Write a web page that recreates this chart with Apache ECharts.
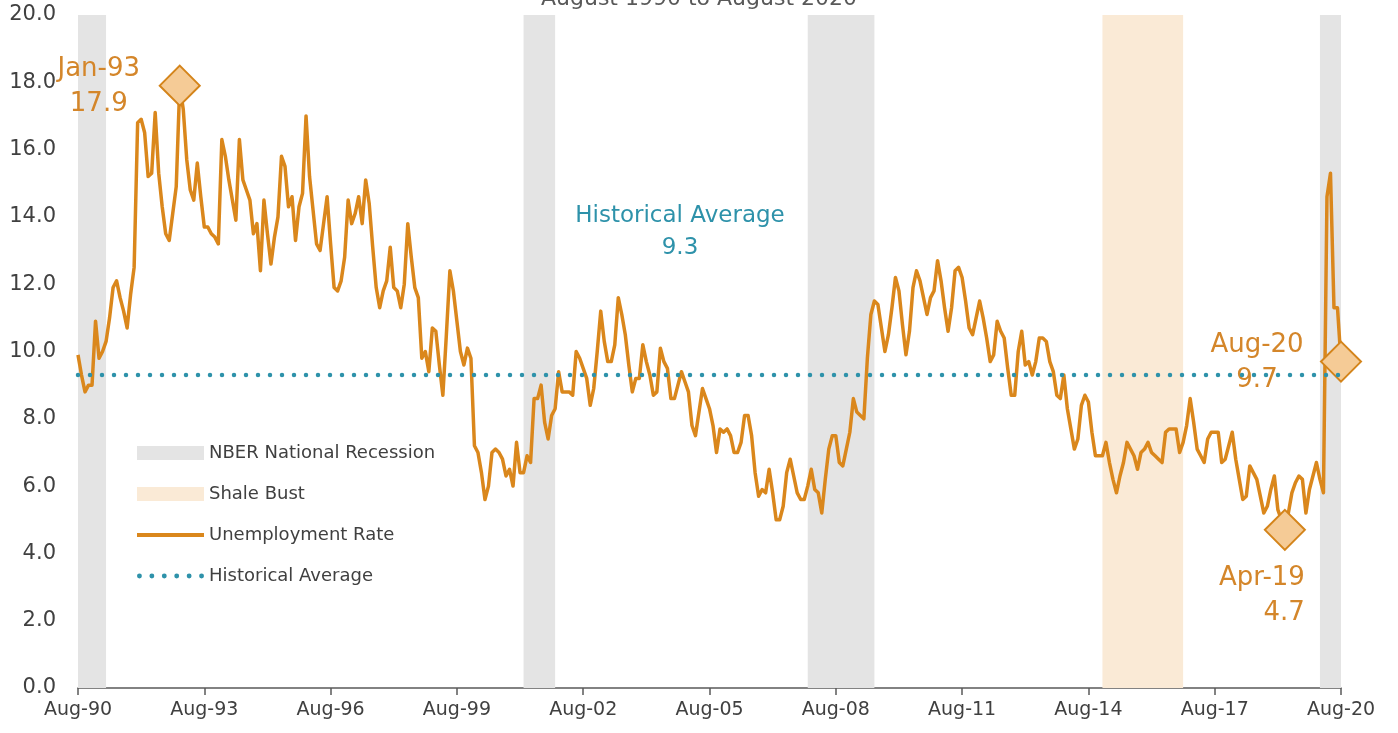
<!DOCTYPE html>
<html>
<head>
<meta charset="utf-8">
<title>Unemployment Rate, August 1990 to August 2020</title>
<script src="https://cdn.jsdelivr.net/npm/echarts@6/dist/echarts.min.js"></script>
<style>
  html, body { margin: 0; padding: 0; background: #ffffff; }
  #chart { width: 1398px; height: 733px; }
</style>
</head>
<body>
<div id="chart"></div>
<script>
// Monthly unemployment rate (%), Aug-1990 through Aug-2020, one row per Aug..Jul year
const unemploymentRate = [
  9.9, 9.3, 8.8, 9.0, 9.0, 10.9, 9.8, 10.0, 10.3, 11.0, 11.9, 12.1,
  11.6, 11.2, 10.7, 11.7, 12.5, 16.8, 16.9, 16.5, 15.2, 15.3, 17.1, 15.3,
  14.3, 13.5, 13.3, 14.1, 14.9, 17.9, 17.2, 15.7, 14.8, 14.5, 15.6, 14.6,
  13.7, 13.7, 13.5, 13.4, 13.2, 16.3, 15.8, 15.1, 14.5, 13.9, 16.3, 15.1,
  14.8, 14.5, 13.5, 13.8, 12.4, 14.5, 13.5, 12.6, 13.4, 14.0, 15.8, 15.5,
  14.3, 14.6, 13.3, 14.3, 14.7, 17.0, 15.2, 14.2, 13.2, 13.0, 13.8, 14.6,
  13.2, 11.9, 11.8, 12.1, 12.8, 14.5, 13.8, 14.1, 14.6, 13.8, 15.1, 14.4,
  13.1, 11.9, 11.3, 11.8, 12.1, 13.1, 11.9, 11.8, 11.3, 12.0, 13.8, 12.8,
  11.9, 11.6, 9.8, 10.0, 9.4, 10.7, 10.6, 9.6, 8.7, 10.5, 12.4, 11.8,
  10.9, 10.0, 9.6, 10.1, 9.8, 7.2, 7.0, 6.4, 5.6, 6.0, 7.0, 7.1,
  7.0, 6.8, 6.3, 6.5, 6.0, 7.3, 6.4, 6.4, 6.9, 6.7, 8.6, 8.6,
  9.0, 7.9, 7.4, 8.1, 8.3, 9.4, 8.8, 8.8, 8.8, 8.7, 10.0, 9.8,
  9.5, 9.2, 8.4, 8.9, 10.0, 11.2, 10.3, 9.7, 9.7, 10.2, 11.6, 11.1,
  10.5, 9.6, 8.8, 9.2, 9.2, 10.2, 9.7, 9.3, 8.7, 8.8, 10.1, 9.7,
  9.5, 8.6, 8.6, 9.0, 9.4, 9.1, 8.8, 7.8, 7.5, 8.2, 8.9, 8.6,
  8.3, 7.8, 7.0, 7.7, 7.6, 7.7, 7.5, 7.0, 7.0, 7.3, 8.1, 8.1,
  7.5, 6.4, 5.7, 5.9, 5.8, 6.5, 5.8, 5.0, 5.0, 5.4, 6.4, 6.8,
  6.3, 5.8, 5.6, 5.6, 6.0, 6.5, 5.9, 5.8, 5.2, 6.2, 7.1, 7.5,
  7.5, 6.7, 6.6, 7.1, 7.6, 8.6, 8.2, 8.1, 8.0, 9.8, 11.1, 11.5,
  11.4, 10.7, 10.0, 10.5, 11.3, 12.2, 11.8, 10.8, 9.9, 10.6, 11.9, 12.4,
  12.1, 11.6, 11.1, 11.6, 11.8, 12.7, 12.1, 11.3, 10.6, 11.3, 12.4, 12.5,
  12.2, 11.5, 10.7, 10.5, 11.0, 11.5, 11.0, 10.4, 9.7, 9.9, 10.9, 10.6,
  10.4, 9.5, 8.7, 8.7, 10.0, 10.6, 9.6, 9.7, 9.3, 9.7, 10.4, 10.4,
  10.3, 9.7, 9.4, 8.7, 8.6, 9.3, 8.3, 7.7, 7.1, 7.4, 8.4, 8.7,
  8.5, 7.6, 6.9, 6.9, 6.9, 7.3, 6.7, 6.2, 5.8, 6.3, 6.7, 7.3,
  7.1, 6.9, 6.5, 7.0, 7.1, 7.3, 7.0, 6.9, 6.8, 6.7, 7.6, 7.7,
  7.7, 7.7, 7.0, 7.3, 7.8, 8.6, 7.9, 7.1, 6.9, 6.7, 7.4, 7.6,
  7.6, 7.6, 6.7, 6.8, 7.2, 7.6, 6.8, 6.2, 5.6, 5.7, 6.6, 6.4,
  6.2, 5.7, 5.2, 5.4, 5.9, 6.3, 5.3, 5.0, 4.7, 5.2, 5.8, 6.1,
  6.3, 6.2, 5.2, 5.9, 6.3, 6.7, 6.2, 5.8, 14.6, 15.3, 11.3, 11.3,
  9.7
];

const historicalAverage = 9.3;

// Month labels, first month of the series
const startYear = 1990;
const startMonth = 7; // August (0-based)
const monthNames = ['Jan','Feb','Mar','Apr','May','Jun','Jul','Aug','Sep','Oct','Nov','Dec'];

// NBER recession periods and the shale bust, as [from, to] month labels
const recessions = [['Aug-90', 'Apr-91'], ['Mar-01', 'Dec-01'], ['Dec-07', 'Jul-09'], ['Feb-20', 'Aug-20']];
const shaleBust = [['Dec-14', 'Nov-16']];

// Highlighted months
const highlights = ['Jan-93', 'Apr-19', 'Aug-20'];

const yTicks = { min: 0, max: 20, interval: 2 };

const months = unemploymentRate.map((_, i) => {
  const m = (startMonth + i) % 12;
  const y = startYear + Math.floor((startMonth + i) / 12);
  return monthNames[m] + '-' + String(y % 100).padStart(2, '0');
});

const ORANGE = '#DA871C';
const TEAL = '#2E92AA';
const GREY_TEXT = '#404040';
const FONT = 'DejaVu Sans';

// legend swatches: a solid stroke and a row of round dots
const solidLineIcon = 'path://M0,0H67V4H0Z';
const dottedLineIcon = 'path://' + [0, 1, 2, 3, 4, 5].map(k => {
  const cx = 2.3 + k * 11.7;
  return 'M' + (cx - 2.3) + ',2.3a2.3,2.3 0 1,0 4.6,0a2.3,2.3 0 1,0 -4.6,0Z';
}).join('') + 'M0,0M63,4.6';

// label placement for each highlighted point
const highlightLabel = {
  'Jan-93': { align: 'center', offset: [-81, 1] },
  'Aug-20': { align: 'center', offset: [-84, 1] },
  'Apr-19': { align: 'right', offset: [20, 66] }
};

const markPoints = highlights.map(name => {
  const v = unemploymentRate[months.indexOf(name)];
  const cfg = highlightLabel[name];
  return {
    coord: [name, v],
    value: v,
    label: {
      show: true,
      position: 'inside',
      align: cfg.align,
      verticalAlign: 'middle',
      offset: cfg.offset,
      formatter: name + '\n' + v.toFixed(1),
      color: '#D4862A',
      fontSize: 26,
      lineHeight: 35,
      fontFamily: FONT
    }
  };
});

const chart = echarts.init(document.getElementById('chart'), null, { renderer: 'canvas' });

chart.setOption({
  backgroundColor: '#ffffff',
  animation: false,
  title: {
    text: 'August 1990 to August 2020',
    left: 'center',
    top: -17,
    textStyle: { fontFamily: FONT, fontSize: 22, fontWeight: 'normal', color: '#595959' }
  },
  grid: { left: 78, right: 57, top: 15, bottom: 45 },
  legend: {
    orient: 'vertical',
    left: 132,
    top: 438,
    itemWidth: 67,
    itemHeight: 14,
    itemGap: 21,
    textStyle: { fontFamily: FONT, fontSize: 18, color: GREY_TEXT, lineHeight: 20 },
    data: [
      { name: 'NBER National Recession', icon: 'rect', itemStyle: { color: '#E4E4E4' } },
      { name: 'Shale Bust', icon: 'rect', itemStyle: { color: '#FAEAD6' } },
      { name: 'Unemployment Rate', icon: solidLineIcon, itemStyle: { color: ORANGE } },
      { name: 'Historical Average', icon: dottedLineIcon, itemStyle: { color: TEAL } }
    ]
  },
  xAxis: {
    type: 'category',
    data: months,
    boundaryGap: false,
    axisLine: { show: true, lineStyle: { color: '#595959', width: 1.5 } },
    axisTick: { show: true, interval: 35, length: 7, lineStyle: { color: '#595959', width: 1.5 } },
    axisLabel: { interval: 35, fontFamily: FONT, fontSize: 19, color: GREY_TEXT, margin: 13 },
    splitLine: { show: false }
  },
  yAxis: {
    type: 'value',
    min: yTicks.min,
    max: yTicks.max,
    interval: yTicks.interval,
    axisLine: { show: false },
    axisTick: { show: false },
    splitLine: { show: false },
    axisLabel: {
      fontFamily: FONT, fontSize: 21, color: GREY_TEXT, margin: 22,
      formatter: v => v.toFixed(1)
    }
  },
  graphic: [{
    type: 'text',
    x: 680,
    y: 200,
    z: 10,
    style: {
      text: 'Historical Average\n' + historicalAverage.toFixed(1),
      align: 'center',
      textAlign: 'center',
      fill: TEAL,
      fontFamily: FONT,
      fontSize: 23,
      lineHeight: 32
    }
  }],
  series: [
    {
      name: 'NBER National Recession',
      type: 'line',
      data: [],
      color: '#E4E4E4',
      z: 1,
      markArea: {
        silent: true,
        itemStyle: { color: '#E4E4E4' },
        data: recessions.map(r => [{ xAxis: r[0] }, { xAxis: r[1] }])
      }
    },
    {
      name: 'Shale Bust',
      type: 'line',
      data: [],
      color: '#FAEAD6',
      z: 1,
      markArea: {
        silent: true,
        itemStyle: { color: '#FAEAD6' },
        data: shaleBust.map(r => [{ xAxis: r[0] }, { xAxis: r[1] }])
      }
    },
    {
      name: 'Unemployment Rate',
      type: 'line',
      data: unemploymentRate,
      color: ORANGE,
      symbol: 'none',
      z: 3,
      lineStyle: { color: ORANGE, width: 3.5, join: 'round' },
      markPoint: {
        symbol: 'diamond',
        symbolSize: [40, 40],
        itemStyle: { color: '#F5CB96', borderColor: '#D4841A', borderWidth: 2 },
        data: markPoints
      }
    },
    {
      name: 'Historical Average',
      type: 'line',
      data: months.map(() => historicalAverage),
      color: TEAL,
      symbol: 'none',
      z: 5,
      lineStyle: { color: TEAL, width: 4.5, type: [0, 12], cap: 'round' }
    }
  ]
});
</script>
</body>
</html>
